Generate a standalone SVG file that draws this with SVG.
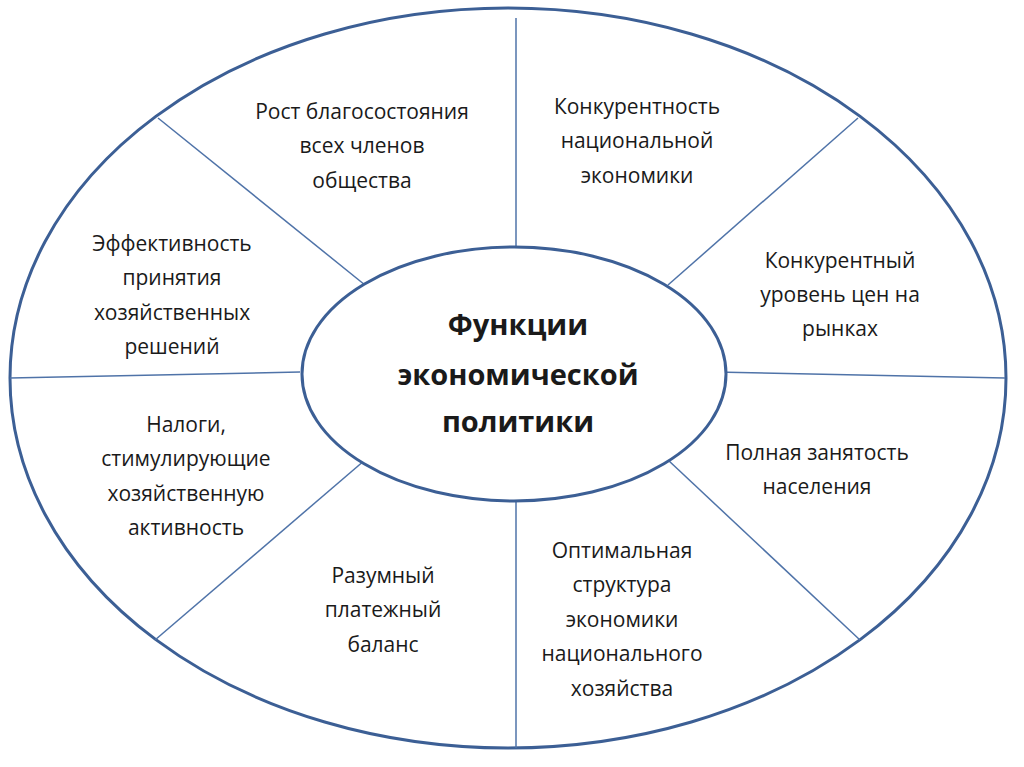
<svg xmlns="http://www.w3.org/2000/svg" width="1024" height="767" viewBox="0 0 1024 767">
<style>
.t{font-family:"Open Sans","Noto Sans",sans-serif;font-size:21px;fill:#1a1a1a;text-anchor:middle}
.b{font-family:"Open Sans","Noto Sans",sans-serif;font-size:29px;font-weight:bold;fill:#1a1a1a;text-anchor:middle}
.l{stroke:#4f73a8;stroke-width:1.5;fill:none}
</style>
<rect width="1024" height="767" fill="#fff"/>
<g id="outer"><ellipse cx="508" cy="378" rx="498" ry="370" fill="#fff" stroke="#3c5f95" stroke-width="3"/></g>
<g id="connectors">
<line class="l" x1="516" y1="18" x2="516" y2="250"/>
<line class="l" x1="516" y1="495" x2="516" y2="748"/>
<line class="l" x1="10" y1="378" x2="300" y2="372"/>
<line class="l" x1="715" y1="372" x2="1005" y2="378"/>
<line class="l" x1="158" y1="118" x2="365" y2="285"/>
<line class="l" x1="858" y1="118" x2="668" y2="285"/>
<line class="l" x1="155" y1="640" x2="365" y2="460"/>
<line class="l" x1="860" y1="640" x2="668" y2="460"/>
</g>
<g id="center"><ellipse cx="514" cy="374" rx="212" ry="127" fill="#fff" stroke="#3c5f95" stroke-width="3"/>
<text class="b" x="518" y="335">Функции</text><text class="b" x="518" y="385">экономической</text><text class="b" x="518" y="432">политики</text></g>
<g id="n1"><text class="t" x="362" y="119">Рост благосостояния</text><text class="t" x="362" y="153">всех членов</text><text class="t" x="362" y="188">общества</text></g>
<g id="n2"><text class="t" x="637" y="114">Конкурентность</text><text class="t" x="637" y="148">национальной</text><text class="t" x="637" y="183">экономики</text></g>
<g id="n3"><text class="t" x="840" y="268">Конкурентный</text><text class="t" x="840" y="302">уровень цен на</text><text class="t" x="840" y="336">рынках</text></g>
<g id="n4"><text class="t" x="817" y="460">Полная занятость</text><text class="t" x="817" y="494">населения</text></g>
<g id="n5"><text class="t" x="622" y="558">Оптимальная</text><text class="t" x="622" y="592">структура</text><text class="t" x="622" y="627">экономики</text><text class="t" x="622" y="661">национального</text><text class="t" x="622" y="696">хозяйства</text></g>
<g id="n6"><text class="t" x="383" y="583">Разумный</text><text class="t" x="383" y="617">платежный</text><text class="t" x="383" y="652">баланс</text></g>
<g id="n7"><text class="t" x="186" y="432">Налоги,</text><text class="t" x="186" y="466">стимулирующие</text><text class="t" x="186" y="501">хозяйственную</text><text class="t" x="186" y="535">активность</text></g>
<g id="n8"><text class="t" x="172" y="251">Эффективность</text><text class="t" x="172" y="285">принятия</text><text class="t" x="172" y="320">хозяйственных</text><text class="t" x="172" y="354">решений</text></g>
</svg>
